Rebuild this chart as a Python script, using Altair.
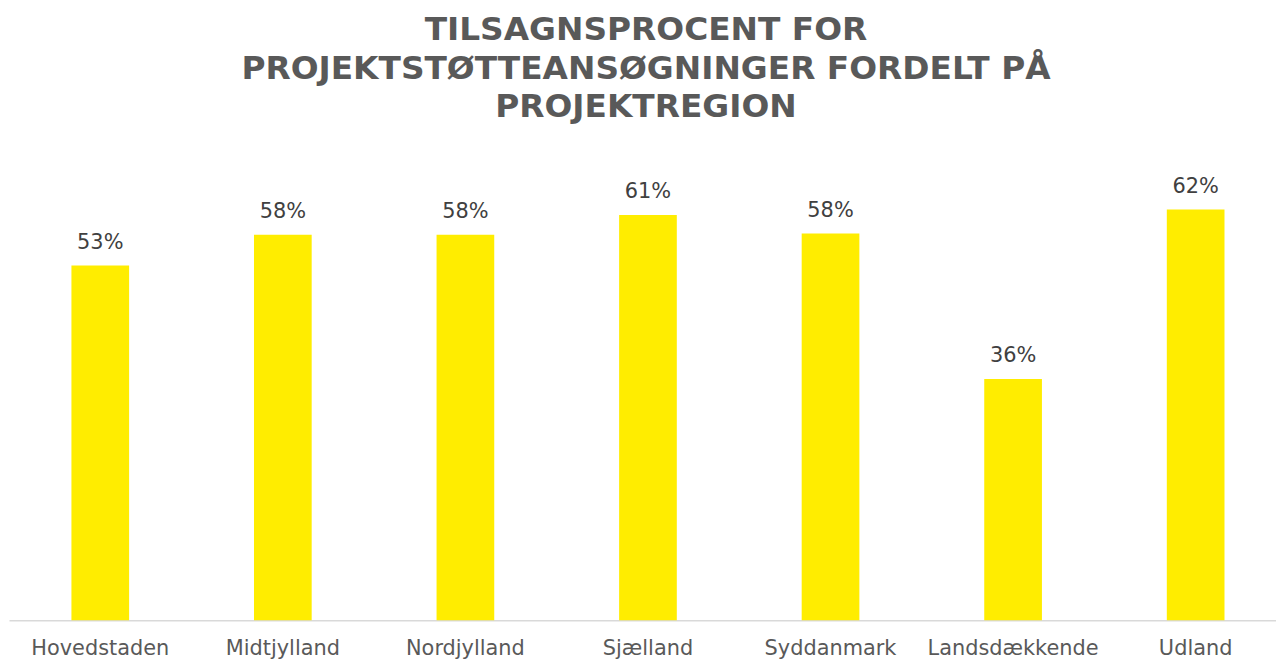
import altair as alt
import pandas as pd

regions = ["Hovedstaden", "Midtjylland", "Nordjylland", "Sjælland", "Syddanmark", "Landsdækkende", "Udland"]
rates = [0.534, 0.580, 0.580, 0.610, 0.582, 0.363, 0.618]
title_lines = ["TILSAGNSPROCENT FOR", "PROJEKTSTØTTEANSØGNINGER FORDELT PÅ", "PROJEKTREGION"]

df = pd.DataFrame({"region": regions, "rate": rates})

FONT = "DejaVu Sans"

x = alt.X(
    "region:N",
    sort=regions,
    title=None,
    scale=alt.Scale(paddingInner=0.684, paddingOuter=0.342),
    axis=alt.Axis(
        labelAngle=0,
        labelFont=FONT,
        labelFontSize=21,
        labelColor="#595959",
        labelPadding=18,
        ticks=False,
        domainColor="#D9D9D9",
        domainWidth=1.5,
        grid=False,
    ),
)
y = alt.Y(
    "rate:Q",
    title=None,
    scale=alt.Scale(domain=[0, 0.7], nice=False, zero=True),
    axis=None,
)

base = alt.Chart(df).encode(x=x, y=y)
bars = base.mark_bar(color="#FFED00")
labels = base.mark_text(
    baseline="alphabetic", dy=-17, font=FONT, fontSize=21, color="#404040"
).encode(text=alt.Text("rate:Q", format=".0%"))

chart = (
    alt.layer(bars, labels)
    .properties(
        width=1286,
        height=468,
        title=alt.TitleParams(
            text=title_lines,
            font=FONT,
            fontSize=33,
            fontWeight="bold",
            color="#595959",
            lineHeight=39,
            anchor="middle",
            offset=31,
            dx=-2,
        ),
        autosize=alt.AutoSizeParams(type="none"),
        padding={"left": 1, "top": 146, "right": -11, "bottom": 40},
        background="white",
    )
    .configure_view(stroke="transparent", strokeWidth=0)
)

chart.save("out.html", embed_options={"renderer": "svg", "actions": False})
